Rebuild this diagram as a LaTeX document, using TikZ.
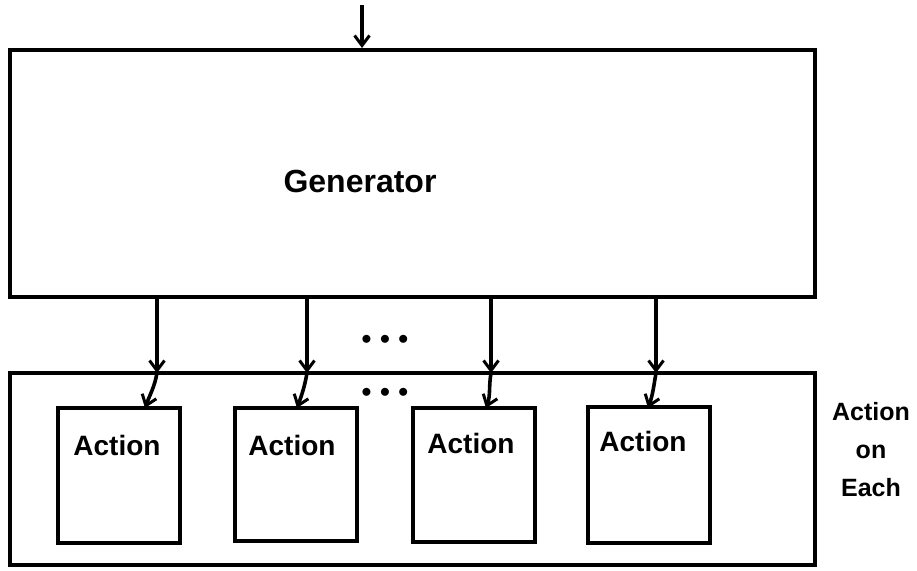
\documentclass[tikz,border=0pt]{standalone}
\usepackage{fontspec}
\setmainfont{Liberation Sans}
\usetikzlibrary{arrows.meta}
\begin{document}
\begin{tikzpicture}[x=1pt,y=-1pt,
  box/.style={draw,line width=4pt,rectangle,inner sep=0pt},
  conn/.style={line width=3.6pt,-{Straight Barb[length=10pt,width=15pt,line width=3pt]}},
  lbl/.style={font=\fontsize{28}{32}\selectfont\bfseries,inner sep=0pt},
  dots/.style={font=\fontsize{22}{22}\selectfont\bfseries,inner sep=0pt}]
\useasboundingbox (0,0) rectangle (917,570);
% main boxes
\node[box,minimum width=805pt,minimum height=247pt] (gen) at (412.5,173.5) {};
\node[lbl,font=\fontsize{32}{36}\selectfont\bfseries] (gent) at (360,181) {Generator};
\node[box,minimum width=805pt,minimum height=192pt] (outer) at (412.5,469) {};
% action boxes
\node[box,minimum width=122pt,minimum height=135pt] (a1) at (119,475.5) {};
\node[box,minimum width=122pt,minimum height=133pt] (a2) at (296,474) {};
\node[box,minimum width=122pt,minimum height=134pt] (a3) at (474,475) {};
\node[box,minimum width=122pt,minimum height=136pt] (a4) at (649,475) {};
\node[lbl] (t1) at (117,445) {Action};
\node[lbl] (t2) at (292,445) {Action};
\node[lbl] (t3) at (471,443) {Action};
\node[lbl] (t4) at (643,441) {Action};
% side label
\node[lbl,align=center,font=\fontsize{25}{38}\selectfont\bfseries] (each) at (871,450) {Action\\on\\Each};
% dots
\node[dots] (d1) at (385,340) {$\bullet\,\bullet\,\bullet$};
\node[dots] (d2) at (385,393) {$\bullet\,\bullet\,\bullet$};
% input arrow
\coordinate (in) at (362,5);
\draw[conn] (in) -- (in |- gen.north);
% connectors
\foreach \i/\x/\e in {1/157/145, 2/307/297, 3/491/486, 4/656/648}{
  \coordinate (s\i) at (\x,297);
  \coordinate (m\i) at (\x,373);
  \coordinate (e\i) at (\e,408);
  \draw[conn] (s\i) -- (m\i);
  \draw[conn] (m\i) to[out=-100,in=70] (e\i);
}
\end{tikzpicture}
\end{document}
